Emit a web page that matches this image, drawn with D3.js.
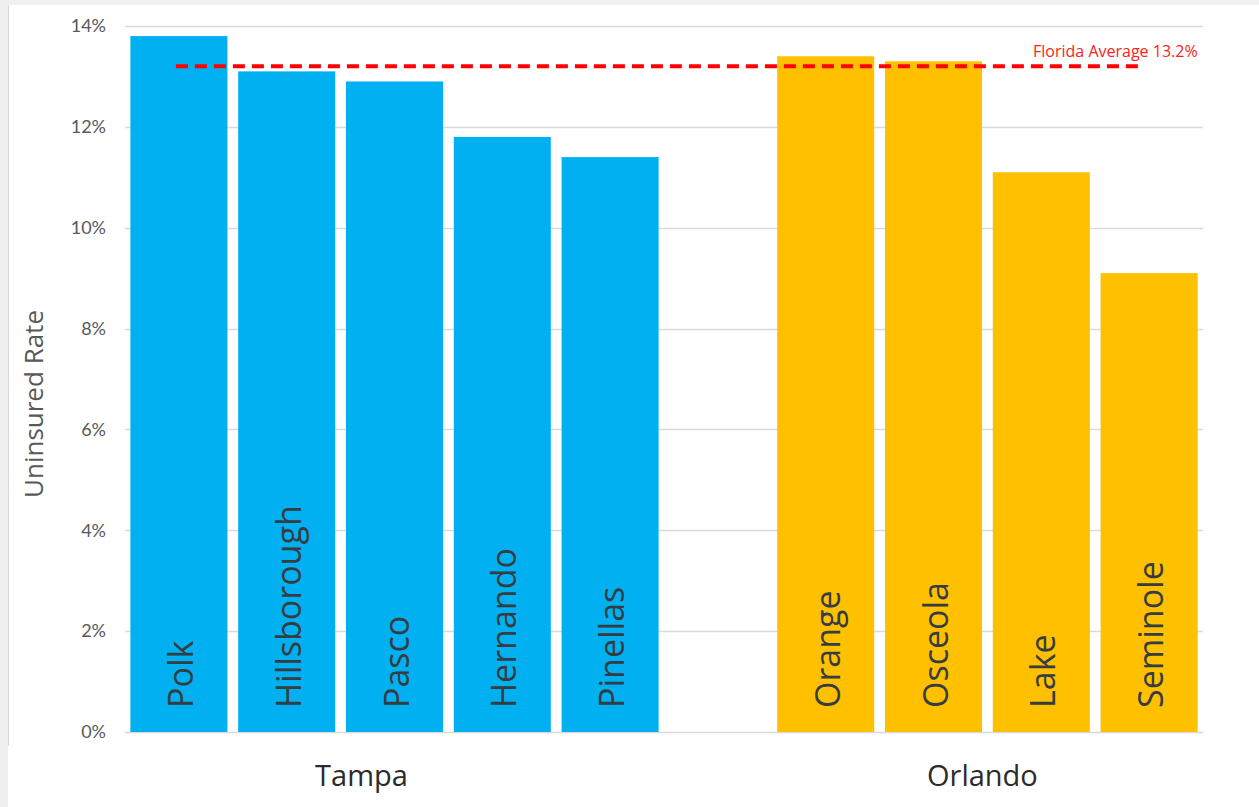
<!DOCTYPE html>
<html>
<head>
<meta charset="utf-8">
<script src="https://cdn.jsdelivr.net/npm/d3@7"></script>
<style>
  html, body { margin: 0; padding: 0; background: #ffffff; }
  svg { display: block; }
</style>
</head>
<body>
<svg id="chart" width="1259" height="807"></svg>
<script>
// County uninsured rates (%), grouped by metro area
const tampaCounties = ["Polk", "Hillsborough", "Pasco", "Hernando", "Pinellas"];
const tampaRates = [13.8, 13.1, 12.9, 11.8, 11.4];
const orlandoCounties = ["Orange", "Osceola", "Lake", "Seminole"];
const orlandoRates = [13.4, 13.3, 11.1, 9.1];
const groups = ["Tampa", "Orlando"];
const groupColors = ["#00b0f0", "#ffc000"];
const floridaAverage = 13.2;
const yTicks = [0, 2, 4, 6, 8, 10, 12, 14];
const yTitle = "Uninsured Rate";

const svg = d3.select("#chart");
const W = 1259, H = 807;
const margin = { left: 125, right: 56, top: 26, bottom: 75 };

// window frame
svg.append("rect").attr("x", 0).attr("y", 0).attr("width", W).attr("height", 5).attr("fill", "#f0f0f0");
svg.append("rect").attr("x", 0).attr("y", 0).attr("width", 8).attr("height", H).attr("fill", "#f0f0f0");
svg.append("line").attr("x1", 8.5).attr("x2", 8.5).attr("y1", 5).attr("y2", 746)
  .attr("stroke", "#d9d9d9").attr("stroke-width", 1);

// Rows: one blank slot separates the two metro groups
const rows = [];
tampaCounties.forEach((c, i) => rows.push({ key: c, value: tampaRates[i], group: 0 }));
rows.push({ key: "__gap__", value: null, group: -1 });
orlandoCounties.forEach((c, i) => rows.push({ key: c, value: orlandoRates[i], group: 1 }));

const x = d3.scaleBand()
  .domain(rows.map(d => d.key))
  .range([margin.left, W - margin.right])
  .paddingInner(0.1)
  .paddingOuter(0.05);

const y = d3.scaleLinear()
  .domain([0, 14])
  .range([H - margin.bottom, margin.top]);

// gridlines
svg.append("g")
  .selectAll("line")
  .data(yTicks)
  .join("line")
  .attr("x1", margin.left)
  .attr("x2", W - margin.right)
  .attr("y1", d => Math.round(y(d)) + 0.5)
  .attr("y2", d => Math.round(y(d)) + 0.5)
  .attr("stroke", "#d9d9d9")
  .attr("stroke-width", 1.3);

// y axis labels
const yAxis = d3.axisLeft(y).tickValues(yTicks).tickSize(0).tickPadding(0)
  .tickFormat(d => d + "%");
const gy = svg.append("g").attr("transform", `translate(${margin.left - 19},0)`).call(yAxis);
gy.select(".domain").remove();
gy.selectAll("text")
  .attr("font-family", "Lato, 'Open Sans', sans-serif")
  .attr("font-size", 18)
  .attr("fill", "#595959");

// y title
svg.append("text")
  .attr("transform", `translate(43, 404) rotate(-90)`)
  .attr("text-anchor", "middle")
  .attr("font-family", "'Open Sans', Lato, sans-serif")
  .attr("font-size", 26)
  .attr("fill", "#595959")
  .text(yTitle);

const bars = rows.filter(d => d.value !== null);

// bars
svg.append("g")
  .selectAll("rect")
  .data(bars)
  .join("rect")
  .attr("x", d => x(d.key))
  .attr("y", d => y(d.value))
  .attr("width", x.bandwidth())
  .attr("height", d => y(0) - y(d.value))
  .attr("fill", d => groupColors[d.group]);

// county names inside bars, rotated
svg.append("g")
  .selectAll("text")
  .data(bars)
  .join("text")
  .attr("transform", d => `translate(${x(d.key) + x.bandwidth() / 2 + 14}, ${y(0) - 24}) rotate(-90)`)
  .attr("text-anchor", "start")
  .attr("font-family", "'Open Sans', Lato, sans-serif")
  .attr("font-size", 34)
  .attr("fill", "#353c42")
  .text(d => d.key);

// group labels
const groupMembers = [tampaCounties, orlandoCounties];
const groupShift = [-33, -5];
svg.append("g")
  .selectAll("text")
  .data(groups)
  .join("text")
  .attr("x", (g, i) => {
    const m = groupMembers[i];
    return (x(m[0]) + x(m[m.length - 1]) + x.bandwidth()) / 2 + groupShift[i];
  })
  .attr("y", 786)
  .attr("text-anchor", "middle")
  .attr("font-family", "'Open Sans', Lato, sans-serif")
  .attr("font-size", 29)
  .attr("fill", "#2b2b2b")
  .text(g => g);

// Florida average reference line
const firstKey = tampaCounties[0], lastKey = orlandoCounties[orlandoCounties.length - 1];
svg.append("line")
  .attr("x1", x(firstKey) + x.bandwidth() / 2 - 3)
  .attr("x2", x(lastKey) + x.bandwidth() / 2 - 8)
  .attr("y1", y(floridaAverage))
  .attr("y2", y(floridaAverage))
  .attr("stroke", "#ff0000")
  .attr("stroke-width", 4)
  .attr("stroke-dasharray", "12,7");

svg.append("text")
  .attr("x", x(lastKey) + x.bandwidth())
  .attr("y", y(floridaAverage) - 9)
  .attr("text-anchor", "end")
  .attr("font-family", "'Open Sans', Lato, sans-serif")
  .attr("font-size", 16)
  .attr("fill", "#ff2020")
  .text(`Florida Average ${floridaAverage}%`);
</script>
</body>
</html>
